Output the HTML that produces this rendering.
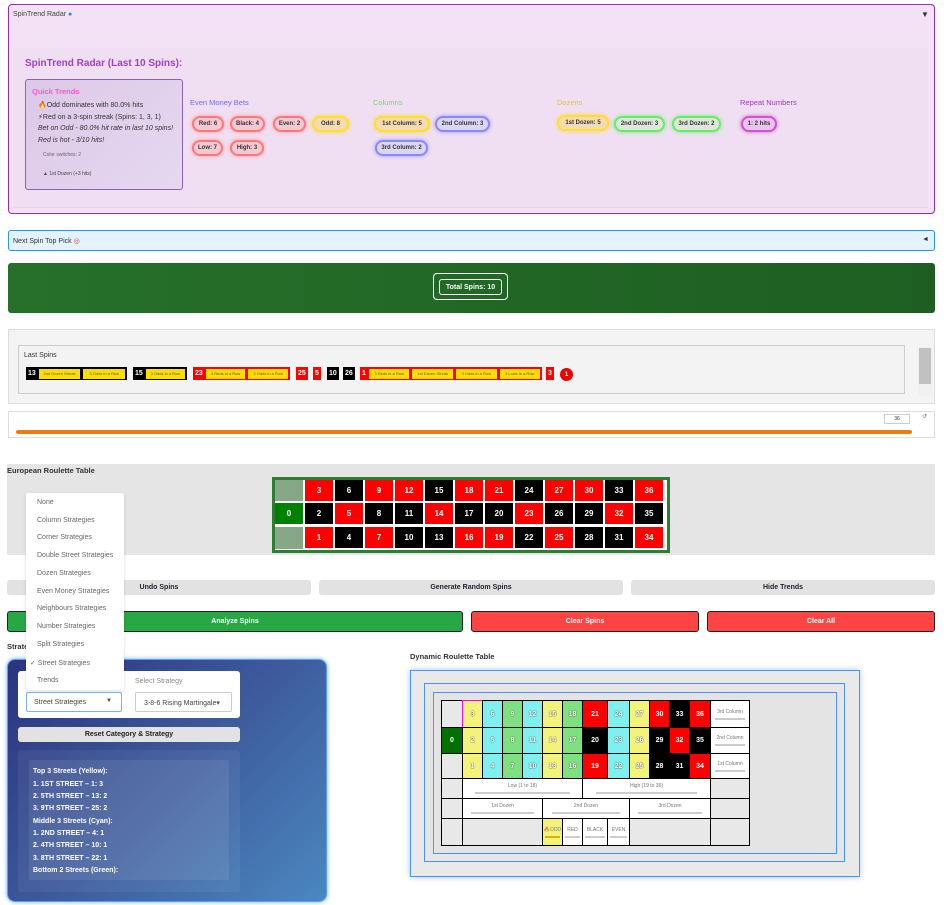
<!DOCTYPE html>
<html><head><meta charset="utf-8"><style>
*{box-sizing:border-box;margin:0;padding:0}
body{width:948px;height:905px;position:relative;background:#fff;font-family:"Liberation Sans","DejaVu Sans",sans-serif;color:#333;overflow:hidden;font-size:7px}
.a{position:absolute}
.pill{position:absolute;height:16px;border-radius:8px;font-size:6px;font-weight:bold;display:flex;align-items:center;justify-content:center;color:#333}
.pr{border:2px solid #f77;background:#f4c9d4;box-shadow:0 0 4px #f99}
.py{border:2px solid #fd3;background:#f5dcb0;box-shadow:0 0 5px #fd3}
.pb{border:2px solid #88f;background:#dcd6f5;box-shadow:0 0 4px #99f}
.pg{border:2px solid #6e6;background:#dfe6da;box-shadow:0 0 4px #7e7}
.pp{border:2px solid #c5c;background:#eac4ef;box-shadow:0 0 4px #c6c}
.eu{position:absolute;width:28px;height:21px;color:#fff;font-weight:bold;font-size:8px;display:flex;align-items:center;justify-content:center}
.R{background:#f00}.B{background:#000}
.chip{position:absolute;top:367px;height:13px;display:flex;align-items:center;color:#fff;font-size:7px;font-weight:bold;padding:0 2px;gap:3px}
.tag{background:#fd0;color:#555;font-size:4px;font-weight:normal;padding:2px 1px;line-height:6px;flex:1;text-align:center;white-space:nowrap}
.btn{position:absolute;display:flex;align-items:center;justify-content:center;font-weight:bold;font-size:7px;border-radius:3px}
.dd{position:absolute;left:37px;font-size:7px;color:#666}
.t{position:absolute;left:33px;color:#fff;font-weight:bold;font-size:7px}
.c{position:absolute;border:1px solid #000;display:flex;align-items:center;justify-content:center;font-size:7px;font-weight:bold;color:#fff}
.Y{background:#f3f37a;color:#fff;text-shadow:0 0 1px #444,0 0 1px #444}.C{background:#7ef0f0;color:#fff;text-shadow:0 0 1px #444,0 0 1px #444}.G{background:#7ee07e;color:#fff;text-shadow:0 0 1px #444,0 0 1px #444}
.W{background:#fff;color:#777;font-weight:normal;font-size:5px;flex-direction:column}
.W i{display:block;width:80%;height:2px;background:#ccc;margin-top:3px}
.E{background:#e8e8e8}
</style></head><body>

<div class="a" style="left:8px;top:4px;width:927px;height:210px;border:1px solid #9c27b0;border-radius:4px;background:#f3e1f5"></div>
<div class="a" style="left:13px;top:11px;font-size:7px;color:#444">SpinTrend Radar <span style="color:#1e88e5">●</span></div>
<div class="a" style="left:921px;top:10px;font-size:8px;color:#333">▼</div>
<div class="a" style="left:13px;top:48px;width:915px;height:160px;background:#f0dff3;border-bottom:1px solid #e8d3ec"></div>
<div class="a" style="left:25px;top:58px;font-size:10px;font-weight:bold;color:#a040c0">SpinTrend Radar (Last 10 Spins):</div>
<div class="a" style="left:25px;top:79px;width:158px;height:111px;border:1px solid #8a60c0;border-radius:3px;background:linear-gradient(135deg,#dcc8e8,#e6d8f0)"></div>
<div class="a" style="left:32px;top:87px;font-size:7.5px;font-weight:bold;color:#ff55cc">Quick Trends</div>
<div class="a" style="left:38px;top:101px;font-size:7px;color:#333">🔥Odd dominates with 80.0% hits</div>
<div class="a" style="left:38px;top:113px;font-size:7px;color:#333">⚡Red on a 3-spin streak (Spins: 1, 3, 1)</div>
<div class="a" style="left:38px;top:125px;font-size:7px;color:#333;font-style:italic">Bet on Odd - 80.0% hit rate in last 10 spins!</div>
<div class="a" style="left:38px;top:137px;font-size:7px;color:#333;font-style:italic">Red is hot - 3/10 hits!</div>
<div class="a" style="left:43px;top:152px;font-size:5px;color:#666">Color switches: 2</div>
<div class="a" style="left:43px;top:171px;font-size:5px;color:#444">▲ 1st Dozen (+3 hits)</div>

<div class="a" style="left:190px;top:98px;font-size:7.5px;color:#6a6aff">Even Money Bets</div>
<div class="pill pr" style="left:192px;top:116px;width:32px">Red: 6</div>
<div class="pill pr" style="left:230px;top:116px;width:35px">Black: 4</div>
<div class="pill pr" style="left:273px;top:116px;width:33px">Even: 2</div>
<div class="pill py" style="left:312px;top:116px;width:37px">Odd: 8</div>
<div class="pill pr" style="left:192px;top:140px;width:31px">Low: 7</div>
<div class="pill pr" style="left:230px;top:140px;width:34px">High: 3</div>
<div class="a" style="left:373px;top:98px;font-size:7.5px;color:#5e5">Columns</div>
<div class="pill py" style="left:374px;top:116px;width:56px">1st Column: 5</div>
<div class="pill pb" style="left:435px;top:116px;width:55px">2nd Column: 3</div>
<div class="pill pb" style="left:375px;top:140px;width:53px">3rd Column: 2</div>
<div class="a" style="left:557px;top:98px;font-size:7.5px;color:#f0c020">Dozens</div>
<div class="pill py" style="left:557px;top:115px;width:52px">1st Dozen: 5</div>
<div class="pill pg" style="left:614px;top:116px;width:51px">2nd Dozen: 3</div>
<div class="pill pg" style="left:672px;top:116px;width:49px">3rd Dozen: 2</div>
<div class="a" style="left:740px;top:98px;font-size:7.5px;color:#9a3ab5">Repeat Numbers</div>
<div class="pill pp" style="left:741px;top:116px;width:36px">1: 2 hits</div>

<div class="a" style="left:8px;top:230px;width:927px;height:21px;border:1px solid #2196f3;border-radius:3px;background:#e3f2fd"></div>
<div class="a" style="left:13px;top:237px;font-size:7px;color:#333">Next Spin Top Pick <span style="color:#e53935">◎</span></div>
<div class="a" style="left:922px;top:236px;font-size:7px">◄</div>

<div class="a" style="left:8px;top:263px;width:927px;height:50px;background:linear-gradient(90deg,#26702a,#1e5e22);border-radius:3px"></div>
<div class="a" style="left:433px;top:273px;width:75px;height:27px;border:1px solid #fff;border-radius:4px"></div>
<div class="a" style="left:439px;top:279px;width:63px;height:16px;border:1px solid #fff;border-radius:3px;color:#fff;font-size:7px;font-weight:bold;display:flex;align-items:center;justify-content:center">Total Spins: 10</div>

<div class="a" style="left:8px;top:329px;width:927px;height:75px;background:#f4f4f4;border:1px solid #ddd"></div>
<div class="a" style="left:18px;top:345px;width:887px;height:49px;border:1px solid #ccc;background:#f3f3f3"></div>
<div class="a" style="left:918px;top:347px;width:14px;height:49px;background:#f0f0f0"></div>
<div class="a" style="left:919px;top:348px;width:12px;height:36px;background:#c1c1c1"></div>
<div class="a" style="left:24px;top:352px;font-size:7px;color:#333">Last Spins</div>
<div class="chip B" style="left:26px;width:101px">13 <span class="tag">2nd Dozen Streak</span><span class="tag">3 Odds in a Row</span></div>
<div class="chip B" style="left:133px;width:54px">15 <span class="tag">3 Odds in a Row</span></div>
<div class="chip R" style="left:193px;width:97px">23 <span class="tag">3 Reds in a Row</span><span class="tag">3 Odds in a Row</span></div>
<div class="chip R" style="left:296px">25</div>
<div class="chip R" style="left:313px">5</div>
<div class="chip B" style="left:327px">10</div>
<div class="chip B" style="left:343px">26</div>
<div class="chip R" style="left:360px;width:182px">1 <span class="tag">3 Reds in a Row</span><span class="tag">1st Dozen Streak</span><span class="tag">3 Odds in a Row</span><span class="tag">3 Lows in a Row</span></div>
<div class="chip R" style="left:546px">3</div>
<div class="a" style="left:560px;top:368px;width:13px;height:13px;border-radius:50%;background:#e00;color:#fff;font-size:6px;font-weight:bold;display:flex;align-items:center;justify-content:center">1</div>

<div class="a" style="left:8px;top:411px;width:927px;height:27px;border:1px solid #ddd;background:#fff"></div>
<div class="a" style="left:884px;top:414px;width:26px;height:10px;border:1px solid #ccc;font-size:5px;text-align:center;line-height:9px">36</div>
<div class="a" style="left:922px;top:413px;font-size:6px;color:#666">↺</div>
<div class="a" style="left:16px;top:430px;width:896px;height:4px;background:#f07c10;border-radius:2px"></div>

<div class="a" style="left:7px;top:464px;width:928px;height:91px;background:#e5e5e5"></div>
<div class="a" style="left:7px;top:466px;font-size:7.5px;font-weight:bold;color:#333">European Roulette Table</div>
<div class="a" style="left:272px;top:477px;width:398px;height:76px;background:#fff;border:3px solid #2e7d32"></div>
<div class="eu" style="left:275px;top:480px;background:#86a886"></div>
<div class="eu" style="left:275px;top:503px;background:#008000">0</div>
<div class="eu" style="left:275px;top:527px;background:#86a886;height:22px"></div>
<div class="eu R" style="left:305px;top:480px">3</div><div class="eu B" style="left:335px;top:480px">6</div><div class="eu R" style="left:365px;top:480px">9</div><div class="eu R" style="left:395px;top:480px">12</div><div class="eu B" style="left:425px;top:480px">15</div><div class="eu R" style="left:455px;top:480px">18</div><div class="eu R" style="left:485px;top:480px">21</div><div class="eu B" style="left:515px;top:480px">24</div><div class="eu R" style="left:545px;top:480px">27</div><div class="eu R" style="left:575px;top:480px">30</div><div class="eu B" style="left:605px;top:480px">33</div><div class="eu R" style="left:635px;top:480px">36</div>
<div class="eu B" style="left:305px;top:503px">2</div><div class="eu R" style="left:335px;top:503px">5</div><div class="eu B" style="left:365px;top:503px">8</div><div class="eu B" style="left:395px;top:503px">11</div><div class="eu R" style="left:425px;top:503px">14</div><div class="eu B" style="left:455px;top:503px">17</div><div class="eu B" style="left:485px;top:503px">20</div><div class="eu R" style="left:515px;top:503px">23</div><div class="eu B" style="left:545px;top:503px">26</div><div class="eu B" style="left:575px;top:503px">29</div><div class="eu R" style="left:605px;top:503px">32</div><div class="eu B" style="left:635px;top:503px">35</div>
<div class="eu R" style="left:305px;top:527px">1</div><div class="eu B" style="left:335px;top:527px">4</div><div class="eu R" style="left:365px;top:527px">7</div><div class="eu B" style="left:395px;top:527px">10</div><div class="eu B" style="left:425px;top:527px">13</div><div class="eu R" style="left:455px;top:527px">16</div><div class="eu R" style="left:485px;top:527px">19</div><div class="eu B" style="left:515px;top:527px">22</div><div class="eu R" style="left:545px;top:527px">25</div><div class="eu B" style="left:575px;top:527px">28</div><div class="eu B" style="left:605px;top:527px">31</div><div class="eu R" style="left:635px;top:527px">34</div>

<div class="btn" style="left:7px;top:580px;width:304px;height:15px;background:#e2e2e2;color:#223">Undo Spins</div>
<div class="btn" style="left:319px;top:580px;width:304px;height:15px;background:#e2e2e2;color:#223">Generate Random Spins</div>
<div class="btn" style="left:631px;top:580px;width:304px;height:15px;background:#e2e2e2;color:#223">Hide Trends</div>
<div class="btn" style="left:7px;top:611px;width:456px;height:21px;background:#28a745;border:1px solid #222;color:#fff">Analyze Spins</div>
<div class="btn" style="left:471px;top:611px;width:228px;height:21px;background:#ff4444;border:1px solid #222;color:#fff">Clear Spins</div>
<div class="btn" style="left:707px;top:611px;width:228px;height:21px;background:#ff4444;border:1px solid #222;color:#fff">Clear All</div>
<div class="a" style="left:7px;top:642px;font-size:7.5px;font-weight:bold;color:#333">Strategy</div>

<div class="a" style="left:7px;top:659px;width:320px;height:243px;border-radius:8px;background:linear-gradient(135deg,#2a347f,#3d5a9c 50%,#4a88c0);box-shadow:0 0 4px #6af;border:1px solid #5a9cff"></div>
<div class="a" style="left:18px;top:671px;width:222px;height:47px;background:#fff;border-radius:3px"></div>
<div class="a" style="left:135px;top:678px;font-size:7px;color:#888">Select Strategy</div>
<div class="a" style="left:26px;top:692px;width:96px;height:20px;border:1px solid #7ab3f0;border-radius:2px;font-size:7px;color:#444;padding:6px 0 0 7px">Street Strategies<span style="position:absolute;left:79px;top:5px;font-size:6px">▼</span></div>
<div class="a" style="left:135px;top:692px;width:97px;height:20px;border:1px solid #ccc;border-radius:2px;font-size:7px;color:#444;padding:6px 0 0 8px">3-8-6 Rising Martingale▾</div>
<div class="btn" style="left:18px;top:727px;width:222px;height:15px;background:#e2e2e2;color:#222">Reset Category &amp; Strategy</div>
<div class="a" style="left:18px;top:750px;width:222px;height:142px;background:rgba(255,255,255,0.06);border-radius:3px"></div>
<div class="a" style="left:29px;top:760px;width:200px;height:120px;background:rgba(255,255,255,0.08);border-radius:2px"></div>
<div class="t" style="top:768px">Top 3 Streets (Yellow):</div>
<div class="t" style="top:781px">1. 1ST STREET – 1: 3</div>
<div class="t" style="top:793px">2. 5TH STREET – 13: 2</div>
<div class="t" style="top:805px">3. 9TH STREET – 25: 2</div>
<div class="t" style="top:818px">Middle 3 Streets (Cyan):</div>
<div class="t" style="top:830px">1. 2ND STREET – 4: 1</div>
<div class="t" style="top:842px">2. 4TH STREET – 10: 1</div>
<div class="t" style="top:855px">3. 8TH STREET – 22: 1</div>
<div class="t" style="top:867px">Bottom 2 Streets (Green):</div>

<div class="a" style="left:26px;top:493px;width:98px;height:197px;background:#fff;box-shadow:0 1px 3px rgba(0,0,0,.15);border-radius:2px"></div>
<div class="dd" style="top:499px">None</div>
<div class="dd" style="top:517px">Column Strategies</div>
<div class="dd" style="top:534px">Corner Strategies</div>
<div class="dd" style="top:552px">Double Street Strategies</div>
<div class="dd" style="top:570px">Dozen Strategies</div>
<div class="dd" style="top:588px">Even Money Strategies</div>
<div class="dd" style="top:605px">Neighbours Strategies</div>
<div class="dd" style="top:623px">Number Strategies</div>
<div class="dd" style="top:641px">Split Strategies</div>
<div class="dd" style="top:659px;left:30px">✓ Street Strategies</div>
<div class="dd" style="top:677px">Trends</div>

<div class="a" style="left:410px;top:652px;font-size:7.5px;font-weight:bold;color:#333">Dynamic Roulette Table</div>
<div class="a" style="left:410px;top:670px;width:450px;height:207px;border:1px solid #4a90ff;background:#e9e9e9;box-shadow:0 0 6px #9cf"></div>
<div class="a" style="left:424px;top:683px;width:421px;height:179px;border:1px solid #4a90ff;background:#e6e6e6"></div>
<div class="a" style="left:433px;top:692px;width:404px;height:162px;border:1px solid #4a90ff;background:#e4e4e4"></div>
<div class="a" style="left:441px;top:700px;width:309px;height:146px;background:#000"></div>

<div class="c E" style="left:441px;top:700px;width:22px;height:28px"></div>
<div class="c" style="left:441px;top:727px;width:22px;height:27px;background:#007000">0</div>
<div class="c E" style="left:441px;top:753px;width:22px;height:26px"></div>
<div class="c Y" style="left:462px;top:700px;width:21px;height:28px;border-color:#f0f">3</div><div class="c C" style="left:482px;top:700px;width:21px;height:28px">6</div><div class="c G" style="left:502px;top:700px;width:21px;height:28px">9</div><div class="c C" style="left:522px;top:700px;width:21px;height:28px">12</div><div class="c Y" style="left:542px;top:700px;width:21px;height:28px">15</div><div class="c G" style="left:562px;top:700px;width:21px;height:28px">18</div><div class="c R" style="left:582px;top:700px;width:26px;height:28px">21</div><div class="c C" style="left:607px;top:700px;width:23px;height:28px">24</div><div class="c Y" style="left:629px;top:700px;width:21px;height:28px">27</div><div class="c R" style="left:649px;top:700px;width:21px;height:28px">30</div><div class="c B" style="left:669px;top:700px;width:21px;height:28px">33</div><div class="c R" style="left:689px;top:700px;width:22px;height:28px">36</div>
<div class="c Y" style="left:462px;top:727px;width:21px;height:27px">2</div><div class="c C" style="left:482px;top:727px;width:21px;height:27px">5</div><div class="c G" style="left:502px;top:727px;width:21px;height:27px">8</div><div class="c C" style="left:522px;top:727px;width:21px;height:27px">11</div><div class="c Y" style="left:542px;top:727px;width:21px;height:27px">14</div><div class="c G" style="left:562px;top:727px;width:21px;height:27px">17</div><div class="c B" style="left:582px;top:727px;width:26px;height:27px">20</div><div class="c C" style="left:607px;top:727px;width:23px;height:27px">23</div><div class="c Y" style="left:629px;top:727px;width:21px;height:27px">26</div><div class="c B" style="left:649px;top:727px;width:21px;height:27px">29</div><div class="c R" style="left:669px;top:727px;width:21px;height:27px">32</div><div class="c B" style="left:689px;top:727px;width:22px;height:27px">35</div>
<div class="c Y" style="left:462px;top:753px;width:21px;height:26px">1</div><div class="c C" style="left:482px;top:753px;width:21px;height:26px">4</div><div class="c G" style="left:502px;top:753px;width:21px;height:26px">7</div><div class="c C" style="left:522px;top:753px;width:21px;height:26px">10</div><div class="c Y" style="left:542px;top:753px;width:21px;height:26px">13</div><div class="c G" style="left:562px;top:753px;width:21px;height:26px">16</div><div class="c R" style="left:582px;top:753px;width:26px;height:26px">19</div><div class="c C" style="left:607px;top:753px;width:23px;height:26px">22</div><div class="c Y" style="left:629px;top:753px;width:21px;height:26px">25</div><div class="c B" style="left:649px;top:753px;width:21px;height:26px">28</div><div class="c B" style="left:669px;top:753px;width:21px;height:26px">31</div><div class="c R" style="left:689px;top:753px;width:22px;height:26px">34</div>
<div class="c W" style="left:710px;top:700px;width:40px;height:28px">3rd Column<i></i></div>
<div class="c W" style="left:710px;top:727px;width:40px;height:27px">2nd Column<i></i></div>
<div class="c W" style="left:710px;top:753px;width:40px;height:26px">1st Column<i></i></div>
<div class="c E" style="left:441px;top:778px;width:22px;height:21px"></div>
<div class="c W" style="left:462px;top:778px;width:121px;height:21px">Low (1 to 18)<i></i></div>
<div class="c W" style="left:582px;top:778px;width:129px;height:21px">High (19 to 36)<i></i></div>
<div class="c E" style="left:710px;top:778px;width:40px;height:21px"></div>
<div class="c E" style="left:441px;top:798px;width:22px;height:21px"></div>
<div class="c W" style="left:462px;top:798px;width:81px;height:21px">1st Dozen<i></i></div>
<div class="c W" style="left:542px;top:798px;width:88px;height:21px">2nd Dozen<i></i></div>
<div class="c W" style="left:629px;top:798px;width:82px;height:21px">3rd Dozen<i></i></div>
<div class="c E" style="left:710px;top:798px;width:40px;height:21px"></div>
<div class="c E" style="left:441px;top:818px;width:22px;height:28px"></div>
<div class="c E" style="left:462px;top:818px;width:81px;height:28px"></div>
<div class="c W" style="left:542px;top:818px;width:21px;height:28px;background:#f3f37a">🔥ODD<i style="background:#e0b000"></i></div>
<div class="c W" style="left:562px;top:818px;width:21px;height:28px">RED<i></i></div>
<div class="c W" style="left:582px;top:818px;width:26px;height:28px">BLACK<i></i></div>
<div class="c W" style="left:607px;top:818px;width:23px;height:28px">EVEN<i></i></div>
<div class="c E" style="left:629px;top:818px;width:82px;height:28px"></div>
<div class="c E" style="left:710px;top:818px;width:40px;height:28px"></div>
</body></html>
